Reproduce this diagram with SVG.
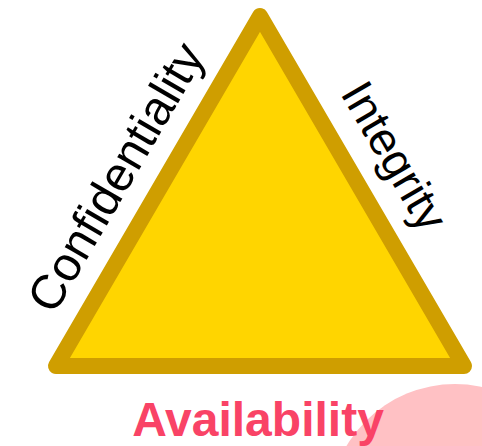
<svg xmlns="http://www.w3.org/2000/svg" width="482" height="446" viewBox="0 0 482 446">
  <style>
    .side { font-family: "Liberation Sans", Arial, sans-serif; fill: #000000; text-anchor: middle; }
    .base { font-family: "Liberation Sans", Arial, sans-serif; font-size: 48px; font-weight: bold; fill: #F94366; text-anchor: middle; }
  </style>
  <!-- soft pink disc behind the bottom label -->
  <circle cx="455" cy="510" r="126" fill="#FFC1C4"/>
  <g id="triangle">
    <polygon points="260,16 56,366 464,366" fill="#FFD500" stroke="#CF9E00" stroke-width="16" stroke-linejoin="round"/>
  </g>
  <g id="confidentiality">
    <text class="side" font-size="48" transform="translate(130,185.5) rotate(-59.76)">Confidentiality</text>
  </g>
  <g id="integrity">
    <text class="side" font-size="46" transform="translate(381,164) rotate(59.76)">Integrity</text>
  </g>
  <g id="availability">
    <text class="base" x="258" y="436">Availability</text>
  </g>
</svg>
